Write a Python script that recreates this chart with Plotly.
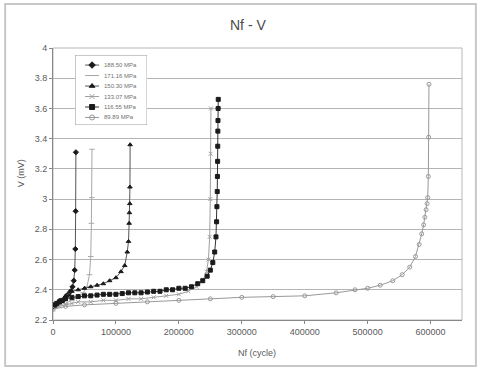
import plotly.graph_objects as go

# ---------------- data ----------------
legend_labels = ["188.50 MPa", "171.16 MPa", "150.30 MPa", "133.07 MPa", "116.55 MPa", "89.89 MPa"]

s1_x = [0, 2000, 5000, 8000, 12000, 16000, 20000, 24000, 28000, 31000, 33000, 34500, 35500, 36000, 36400]
s1_y = [2.29, 2.29, 2.30, 2.31, 2.32, 2.33, 2.35, 2.37, 2.39, 2.42, 2.46, 2.53, 2.67, 2.92, 3.31]

s2_x = [0, 5000, 10000, 20000, 30000, 40000, 48000, 54000, 58000, 60000, 61000, 61500, 62000]
s2_y = [2.28, 2.29, 2.30, 2.31, 2.33, 2.35, 2.38, 2.42, 2.50, 2.62, 2.84, 3.01, 3.33]

s3_x = [0, 5000, 10000, 20000, 30000, 40000, 50000, 60000, 70000, 80000, 90000, 100000, 108000,
        114000, 118000, 120000, 121000, 121500, 122000, 122300, 122600]
s3_y = [2.30, 2.31, 2.33, 2.36, 2.39, 2.40, 2.41, 2.42, 2.43, 2.44, 2.46, 2.48, 2.52,
        2.56, 2.65, 2.72, 2.84, 2.91, 2.97, 3.08, 3.36]

s4_x = [0, 10000, 20000, 30000, 40000, 60000, 80000, 100000, 120000, 140000, 160000, 180000, 200000,
        215000, 228000, 238000, 244000, 247000, 249000, 250000, 250500, 251000]
s4_y = [2.27, 2.29, 2.30, 2.31, 2.32, 2.32, 2.33, 2.33, 2.34, 2.34, 2.35, 2.36, 2.37,
        2.39, 2.42, 2.46, 2.52, 2.60, 2.75, 3.00, 3.30, 3.60]

s5_x = [0, 3000, 6000, 10000, 15000, 20000, 30000, 40000, 50000, 60000, 70000, 80000, 90000, 100000,
        110000, 120000, 130000, 140000, 150000, 160000, 170000, 180000, 190000, 200000, 210000, 220000,
        230000, 238000, 245000, 250000, 254000, 257000, 259000, 260000, 260500, 261000, 261300, 261600,
        261800, 262000, 262200, 262400, 262600]
s5_y = [2.29, 2.30, 2.31, 2.32, 2.33, 2.34, 2.35, 2.355, 2.36, 2.36, 2.365, 2.37, 2.37, 2.37,
        2.375, 2.38, 2.38, 2.38, 2.385, 2.39, 2.39, 2.40, 2.40, 2.41, 2.41, 2.42,
        2.44, 2.46, 2.49, 2.53, 2.58, 2.65, 2.75, 2.85, 2.95, 3.05, 3.15, 3.25,
        3.35, 3.45, 3.52, 3.60, 3.66]

s6_x = [0, 20000, 50000, 100000, 150000, 200000, 250000, 300000, 350000, 400000, 450000, 480000,
        500000, 520000, 540000, 555000, 567000, 576000, 582000, 586000, 589000, 591000, 593000,
        594500, 595500, 596500, 597000, 597500]
s6_y = [2.27, 2.29, 2.30, 2.31, 2.32, 2.33, 2.34, 2.35, 2.355, 2.36, 2.38, 2.40,
        2.41, 2.43, 2.46, 2.50, 2.55, 2.62, 2.70, 2.77, 2.83, 2.88, 2.93,
        2.97, 3.01, 3.15, 3.41, 3.76]

x_ticks = [0, 100000, 200000, 300000, 400000, 500000, 600000]
y_ticks = [2.2, 2.4, 2.6, 2.8, 3.0, 3.2, 3.4, 3.6, 3.8, 4.0]
y_ticklabels = ["2.2", "2.4", "2.6", "2.8", "3", "3.2", "3.4", "3.6", "3.8", "4"]

series = [(s1_x, s1_y), (s2_x, s2_y), (s3_x, s3_y), (s4_x, s4_y), (s5_x, s5_y), (s6_x, s6_y)]

# ---------------- styles ----------------
styles = [
    dict(color="#555555", symbol="diamond", size=4, mcolor="#1a1a1a"),
    dict(color="#a8a8a8", symbol="line-ew-open", size=4, mcolor="#a8a8a8"),
    dict(color="#555555", symbol="triangle-up", size=4, mcolor="#1a1a1a"),
    dict(color="#a0a0a0", symbol="x-thin-open", size=4, mcolor="#a0a0a0"),
    dict(color="#333333", symbol="square", size=4, mcolor="#1a1a1a"),
    dict(color="#999999", symbol="circle-open", size=4, mcolor="#999999"),
]

FONT = "Liberation Sans, Arial, sans-serif"
TXT = "#5a5a5a"

fig = go.Figure()

for (xs, ys), st, name in zip(series, styles, legend_labels):
    fig.add_trace(go.Scatter(
        x=xs, y=ys, mode="lines+markers", name=name, showlegend=False,
        line=dict(color=st["color"], width=1),
        marker=dict(symbol=st["symbol"], size=st["size"], color=st["mcolor"],
                    line=dict(color=st["mcolor"], width=1)),
    ))

# custom compact legend on an inset axis (units: pixels inside the legend box)
row_y = [10, 20.5, 31, 41.5, 52, 62.5]
for ry, st, name in zip(row_y, styles, legend_labels):
    fig.add_trace(go.Scatter(
        x=[10, 17, 24], y=[ry, ry, ry], mode="lines", showlegend=False, hoverinfo="skip",
        line=dict(color=st["color"], width=1), xaxis="x2", yaxis="y2",
    ))
    fig.add_trace(go.Scatter(
        x=[17], y=[ry], mode="markers", showlegend=False, hoverinfo="skip",
        marker=dict(symbol=st["symbol"], size=st["size"] + 1, color=st["mcolor"],
                    line=dict(color=st["mcolor"], width=1)),
        xaxis="x2", yaxis="y2",
    ))
    fig.add_annotation(x=27, y=ry, xref="x2", yref="y2", text=name, showarrow=False,
                       xanchor="left", yanchor="middle",
                       font=dict(family=FONT, size=6, color="#707070"))

fig.add_shape(type="rect", xref="x2", yref="y2", x0=0, x1=72, y0=0, y1=70,
              line=dict(color="#a0a0a0", width=1), fillcolor="white", layer="between")

# outer chart border
fig.add_shape(type="rect", xref="paper", yref="paper", x0=-0.117, x1=1.034, y0=-0.169, y1=1.162,
              line=dict(color="#c8c8c8", width=2), fillcolor="rgba(0,0,0,0)", layer="below")
# plot area frame
fig.add_shape(type="rect", xref="paper", yref="paper", x0=0, x1=1, y0=0, y1=1,
              line=dict(color="#b8b8b8", width=1), fillcolor="rgba(0,0,0,0)", layer="below")

fig.update_layout(
    width=481, height=369,
    margin=dict(l=53, r=19, t=48, b=49),
    paper_bgcolor="white", plot_bgcolor="white",
    font=dict(family=FONT, size=9, color=TXT),
    xaxis=dict(range=[0, 650000], tickvals=x_ticks, ticktext=[str(v) for v in x_ticks],
               showgrid=False, zeroline=False, showline=True, linecolor="#888888", linewidth=1,
               ticks="outside", ticklen=3, tickcolor="#888888",
               tickfont=dict(family=FONT, size=9, color=TXT)),
    yaxis=dict(range=[2.2, 4.0], tickvals=y_ticks, ticktext=y_ticklabels,
               showgrid=True, gridcolor="#b4b4b4", gridwidth=1, zeroline=False,
               showline=True, linecolor="#888888", linewidth=1,
               ticks="outside", ticklen=3, tickcolor="#888888",
               tickfont=dict(family=FONT, size=9, color=TXT)),
    xaxis2=dict(domain=[0.054, 0.230], range=[0, 72], visible=False, anchor="y2", fixedrange=True),
    yaxis2=dict(domain=[0.717, 0.974], range=[70, 0], visible=False, anchor="x2", fixedrange=True),
    showlegend=False,
)

# title and axis titles
fig.add_annotation(x=0.477, y=1.085, xref="paper", yref="paper", text="Nf - V", showarrow=False,
                   xanchor="center", yanchor="middle", font=dict(family=FONT, size=14, color="#4a4a4a"))
fig.add_annotation(x=0.498, y=-0.121, xref="paper", yref="paper", text="Nf (cycle)", showarrow=False,
                   xanchor="center", yanchor="middle", font=dict(family=FONT, size=9, color=TXT))
fig.add_annotation(x=-0.078, y=0.54, xref="paper", yref="paper", text="V (mV)", showarrow=False,
                   textangle=-90, xanchor="center", yanchor="middle",
                   font=dict(family=FONT, size=9, color=TXT))

fig.write_html("out.html")
